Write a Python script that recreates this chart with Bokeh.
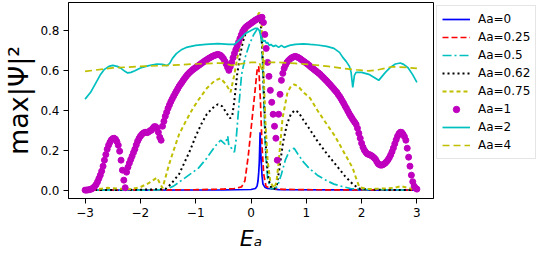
from bokeh.plotting import figure
from bokeh.models import Range1d, FixedTicker, Legend, LegendItem
from bokeh.embed import file_html
from bokeh.resources import INLINE

# ---------------- data ----------------
x_ticks = [-3, -2, -1, 0, 1, 2, 3]
x_tick_labels = ["\u22123", "\u22122", "\u22121", "0", "1", "2", "3"]
y_ticks = [0.0, 0.2, 0.4, 0.6, 0.8]
y_tick_labels = ["0.0", "0.2", "0.4", "0.6", "0.8"]
labels = ["Aa=0", "Aa=0.25", "Aa=0.5", "Aa=0.62", "Aa=0.75", "Aa=1", "Aa=2", "Aa=4"]
x_title = "E\u2090"
y_title = "max|\u03a8|\u00b2"

# Aa=0
x0 = [-3.0, -0.5, 0.0, 0.08, 0.11, 0.127, 0.14, 0.15, 0.158, 0.165, 0.172, 0.186, 0.2, 0.216, 0.25, 0.3, 0.5, 3.0]
y0 = [0.0, 0.001, 0.003, 0.008, 0.02, 0.047, 0.09, 0.14, 0.22, 0.29, 0.22, 0.14, 0.07, 0.03, 0.015, 0.008, 0.002, 0.0]

# Aa=0.25
x1 = [-3.0, -1.0, -0.5, -0.3, -0.17, -0.11, -0.05, 0.01, 0.07, 0.11, 0.14, 0.17, 0.2, 0.23, 0.27, 0.35, 0.6, 1.0, 3.0]
y1 = [0.0, 0.002, 0.005, 0.008, 0.016, 0.047, 0.17, 0.33, 0.49, 0.6, 0.62, 0.45, 0.22, 0.08, 0.02, 0.008, 0.004, 0.002, 0.0]

# Aa=0.5
x2 = [-3.0, -1.8, -1.55, -1.4, -1.25, -1.1, -0.95, -0.8, -0.65, -0.55, -0.47, -0.42, -0.4, -0.35, -0.3, -0.27,
      -0.22, -0.17, -0.1, -0.03, 0.05, 0.12, 0.17, 0.2, 0.23, 0.26, 0.3, 0.35, 0.42, 0.48, 0.55, 0.62, 0.7,
      0.78, 0.85, 0.95, 1.05, 1.2, 1.35, 1.5, 1.65, 1.8, 2.0, 2.5, 3.0]
y2 = [0.0, 0.0, 0.003, 0.02, 0.05, 0.08, 0.11, 0.16, 0.22, 0.25, 0.23, 0.27, 0.22, 0.21, 0.19, 0.25,
      0.42, 0.58, 0.67, 0.73, 0.78, 0.81, 0.8, 0.7, 0.45, 0.2, 0.06, 0.01, 0.005, 0.02, 0.08, 0.15, 0.2,
      0.21, 0.18, 0.14, 0.11, 0.075, 0.05, 0.03, 0.018, 0.008, 0.003, 0.001, 0.0]

# Aa=0.62
x3 = [-3.0, -2.0, -1.75, -1.55, -1.45, -1.3, -1.2, -1.1, -1.0, -0.9, -0.8, -0.7, -0.6, -0.52, -0.45, -0.38,
      -0.34, -0.3, -0.25, -0.2, -0.15, -0.08, 0.0, 0.08, 0.15, 0.19, 0.22, 0.25, 0.28, 0.32, 0.37, 0.42,
      0.47, 0.52, 0.58, 0.65, 0.72, 0.79, 0.86, 0.95, 1.05, 1.19, 1.35, 1.54, 1.7, 1.84, 1.95, 2.1, 2.5, 3.0]
y3 = [0.0, 0.002, 0.004, 0.005, 0.03, 0.08, 0.14, 0.2, 0.27, 0.33, 0.38, 0.41, 0.43, 0.42, 0.39, 0.36,
      0.37, 0.45, 0.58, 0.67, 0.74, 0.8, 0.83, 0.85, 0.87, 0.8, 0.6, 0.35, 0.15, 0.05, 0.01, 0.005,
      0.03, 0.12, 0.24, 0.33, 0.38, 0.4, 0.39, 0.35, 0.31, 0.25, 0.19, 0.125, 0.07, 0.03, 0.008, 0.003, 0.001, 0.0]

# Aa=0.75
x4 = [-3.0, -2.8, -2.6, -2.4, -2.2, -2.0, -1.85, -1.7, -1.64, -1.6, -1.55, -1.48, -1.41, -1.3, -1.17, -1.05,
      -0.93, -0.8, -0.65, -0.55, -0.45, -0.37, -0.3, -0.25, -0.2, -0.14, -0.08, 0.0, 0.08, 0.15, 0.19, 0.22,
      0.26, 0.3, 0.35, 0.42, 0.46, 0.5, 0.57, 0.66, 0.72, 0.78, 0.85, 0.95, 1.07, 1.2, 1.37, 1.52, 1.66,
      1.76, 1.84, 1.9, 1.96, 2.1, 2.4, 2.6, 2.72, 2.85, 3.0]
y4 = [0.0, 0.003, 0.012, 0.008, 0.004, 0.015, 0.035, 0.063, 0.03, 0.01, 0.06, 0.13, 0.19, 0.28, 0.35, 0.41,
      0.46, 0.51, 0.55, 0.56, 0.53, 0.49, 0.58, 0.66, 0.72, 0.77, 0.8, 0.83, 0.86, 0.89, 0.85, 0.65,
      0.35, 0.15, 0.04, 0.01, 0.04, 0.14, 0.36, 0.49, 0.52, 0.53, 0.52, 0.49, 0.46, 0.4, 0.33, 0.27, 0.2,
      0.15, 0.11, 0.06, 0.015, 0.005, 0.008, 0.012, 0.02, 0.01, 0.003]

# Aa=1 (dots), sampled on a 0.025 grid of E from -3 to 3
x5 = [round(-3.0 + 0.025 * i, 3) for i in range(241)]
y5 = [0.0, 0.0, 0.001, 0.002, 0.004, 0.007, 0.012, 0.019, 0.028, 0.042,
      0.058, 0.075, 0.095, 0.12, 0.15, 0.178, 0.205, 0.225, 0.24, 0.252,
      0.258, 0.26, 0.255, 0.243, 0.225, 0.195, 0.15, 0.1, 0.05, 0.012,
      0.09, 0.115, 0.135, 0.153, 0.17, 0.188, 0.205, 0.226, 0.245, 0.259,
      0.27, 0.279, 0.285, 0.289, 0.29, 0.288, 0.292, 0.298, 0.3, 0.31,
      0.318, 0.318, 0.31, 0.29, 0.265, 0.25, 0.32, 0.345, 0.37, 0.39,
      0.41, 0.427, 0.443, 0.457, 0.47, 0.483, 0.495, 0.508, 0.52, 0.53,
      0.54, 0.55, 0.56, 0.569, 0.578, 0.585, 0.592, 0.598, 0.604, 0.609,
      0.614, 0.619, 0.624, 0.629, 0.634, 0.639, 0.644, 0.649, 0.653, 0.658,
      0.662, 0.666, 0.67, 0.673, 0.676, 0.678, 0.68, 0.678, 0.675, 0.668,
      0.66, 0.647, 0.632, 0.615, 0.6, 0.618, 0.64, 0.663, 0.685, 0.704,
      0.722, 0.741, 0.76, 0.778, 0.795, 0.806, 0.815, 0.821, 0.826, 0.831,
      0.836, 0.841, 0.846, 0.851, 0.855, 0.859, 0.862, 0.864, 0.866, 0.84,
      0.78, 0.71, 0.64, 0.57, 0.5, 0.44, 0.38, 0.32, 0.26, 0.15,
      0.38, 0.48, 0.55, 0.585, 0.61, 0.627, 0.64, 0.648, 0.655, 0.661,
      0.665, 0.668, 0.67, 0.668, 0.665, 0.661, 0.656, 0.651, 0.646, 0.641,
      0.636, 0.631, 0.625, 0.619, 0.613, 0.608, 0.602, 0.597, 0.591, 0.586,
      0.58, 0.573, 0.566, 0.559, 0.552, 0.545, 0.537, 0.53, 0.522, 0.514,
      0.506, 0.498, 0.49, 0.48, 0.47, 0.459, 0.447, 0.435, 0.422, 0.41,
      0.397, 0.384, 0.372, 0.361, 0.35, 0.34, 0.33, 0.31, 0.285, 0.26,
      0.235, 0.215, 0.2, 0.19, 0.182, 0.179, 0.177, 0.173, 0.168, 0.162,
      0.155, 0.142, 0.132, 0.127, 0.125, 0.126, 0.13, 0.135, 0.142, 0.151,
      0.162, 0.176, 0.192, 0.211, 0.232, 0.252, 0.27, 0.283, 0.29, 0.289,
      0.28, 0.268, 0.25, 0.21, 0.165, 0.12, 0.075, 0.042, 0.02, 0.01,
      0.005]

# Aa=2
x6 = [-3.0, -2.9, -2.82, -2.73, -2.65, -2.57, -2.5, -2.42, -2.35, -2.28, -2.23, -2.17, -2.1, -2.0, -1.9, -1.8,
      -1.7, -1.6, -1.52, -1.47, -1.42, -1.35, -1.25, -1.17, -1.0, -0.82, -0.6, -0.4, -0.3, -0.2, -0.1, 0.0,
      0.07, 0.12, 0.15, 0.18, 0.22, 0.25, 0.28, 0.3, 0.33, 0.36, 0.4, 0.45, 0.5, 0.55, 0.6, 0.65, 0.7, 0.8,
      0.95, 1.07, 1.2, 1.37, 1.5, 1.6, 1.66, 1.72, 1.78, 1.81, 1.84, 1.87, 1.9, 2.0, 2.13, 2.22, 2.31, 2.37,
      2.43, 2.52, 2.61, 2.7, 2.76, 2.84, 2.92, 3.0]
y6 = [0.456, 0.49, 0.53, 0.575, 0.605, 0.62, 0.625, 0.62, 0.61, 0.595, 0.587, 0.59, 0.598, 0.612, 0.62, 0.627,
      0.632, 0.63, 0.624, 0.635, 0.66, 0.684, 0.705, 0.715, 0.725, 0.73, 0.734, 0.73, 0.73, 0.755, 0.785, 0.8,
      0.81, 0.81, 0.8, 0.77, 0.745, 0.75, 0.735, 0.74, 0.725, 0.73, 0.72, 0.725, 0.715, 0.725, 0.715, 0.72, 0.725, 0.73,
      0.733, 0.73, 0.727, 0.72, 0.71, 0.69, 0.665, 0.645, 0.62, 0.59, 0.515, 0.575, 0.59, 0.59, 0.58, 0.565, 0.55, 0.57,
      0.59, 0.615, 0.632, 0.637, 0.63, 0.613, 0.58, 0.54]

# Aa=4
x7 = [-3.0, -2.5, -2.0, -1.5, -1.0, -0.5, -0.35, -0.2, 0.0, 0.15, 0.2, 0.25, 0.3, 0.5, 0.8, 1.07, 1.4, 1.66,
      1.9, 2.13, 2.3, 2.55, 2.8, 3.0]
y7 = [0.595, 0.612, 0.62, 0.625, 0.632, 0.637, 0.625, 0.632, 0.64, 0.64, 0.6, 0.65, 0.64, 0.64, 0.635, 0.629,
      0.62, 0.61, 0.603, 0.597, 0.603, 0.618, 0.615, 0.61]

# ---------------- figure ----------------
p = figure(frame_width=365, frame_height=196, output_backend="svg", toolbar_location=None,
           x_range=Range1d(-3.3, 3.3), y_range=Range1d(-0.042, 0.94),
           min_border_left=60, min_border_right=8, min_border_top=2, min_border_bottom=50)
p.background_fill_color = "white"
p.border_fill_color = "white"
p.outline_line_color = "black"
p.outline_line_width = 1
p.outline_line_alpha = 1
p.grid.visible = False

p.xaxis.ticker = FixedTicker(ticks=x_ticks)
p.xaxis.major_label_overrides = {float(t): s for t, s in zip(x_ticks, x_tick_labels)}
p.yaxis.ticker = FixedTicker(ticks=y_ticks)
p.yaxis.major_label_overrides = {float(t): s for t, s in zip(y_ticks, y_tick_labels)}
for ax in (p.xaxis, p.yaxis):
    ax.axis_line_color = "black"
    ax.major_tick_line_color = "black"
    ax.major_tick_out = 5
    ax.major_tick_in = 0
    ax.minor_tick_line_color = None
    ax.major_label_text_font = "DejaVu Sans"
    ax.major_label_text_font_size = "12px"
    ax.major_label_text_color = "black"
    ax.major_label_standoff = 4
    ax.axis_label_text_font = "DejaVu Sans"
    ax.axis_label_text_color = "black"

p.xaxis.axis_label = x_title
p.xaxis.axis_label_text_font_style = "italic"
p.xaxis.axis_label_text_font_size = "22px"
p.xaxis.axis_label_standoff = 6
p.yaxis.axis_label = y_title
p.yaxis.axis_label_text_font_style = "normal"
p.yaxis.axis_label_text_font_size = "27px"
p.yaxis.axis_label_standoff = 3

LW = 1.7
r0 = p.line(x0, y0, line_color="#0000ff", line_width=LW)
r1 = p.line(x1, y1, line_color="#ff0000", line_width=LW, line_dash="6 3")
r2 = p.line(x2, y2, line_color="#00bfbf", line_width=LW, line_dash="9 3 2 3")
r3 = p.line(x3, y3, line_color="black", line_width=2, line_dash="2 3")
r4 = p.line(x4, y4, line_color="#bfbf00", line_width=2, line_dash="4 3")
r5 = p.scatter(x5, y5, marker="circle", size=6, fill_color="#bf00bf", line_color="#bf00bf")
r6 = p.line(x6, y6, line_color="#00bfbf", line_width=LW)
r7 = p.line(x7, y7, line_color="#bfbf00", line_width=LW, line_dash="7 4")

renderers = [r0, r1, r2, r3, r4, r5, r6, r7]
legend = Legend(items=[LegendItem(label=l, renderers=[r]) for l, r in zip(labels, renderers)],
                location="top_left")
legend.label_text_font = "DejaVu Sans"
legend.label_text_font_size = "12px"
legend.label_text_color = "black"
legend.glyph_width = 28
legend.glyph_height = 16
legend.label_height = 16
legend.spacing = 2
legend.padding = 5
legend.label_standoff = 8
legend.margin = 3
legend.border_line_color = "#cccccc"
legend.border_line_width = 1
legend.background_fill_alpha = 0.8
p.add_layout(legend, "right")

open("out.html", "w").write(file_html(p, INLINE))
